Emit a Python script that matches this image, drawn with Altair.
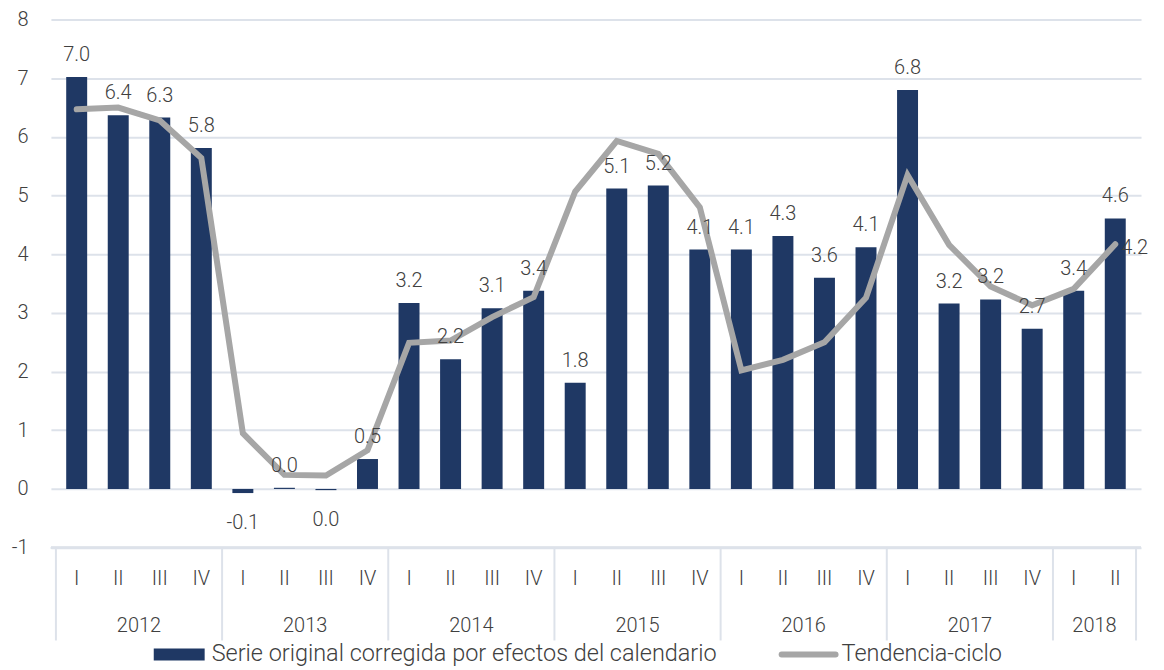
import altair as alt
import pandas as pd

quarters = ["I", "II", "III", "IV"] * 6 + ["I", "II"]
years = [2012] * 4 + [2013] * 4 + [2014] * 4 + [2015] * 4 + [2016] * 4 + [2017] * 4 + [2018] * 2
serie = [7.02, 6.37, 6.33, 5.81, -0.07, 0.02, -0.02, 0.51,
         3.17, 2.21, 3.08, 3.38, 1.81, 5.12, 5.17, 4.08,
         4.08, 4.31, 3.60, 4.12, 6.80, 3.16, 3.23, 2.73,
         3.38, 4.61]
tendencia = [6.47, 6.50, 6.28, 5.64, 0.95, 0.24, 0.23, 0.66,
             2.49, 2.53, 2.93, 3.27, 5.07, 5.93, 5.71, 4.80,
             2.02, 2.20, 2.50, 3.26, 5.35, 4.16, 3.45, 3.13,
             3.41, 4.17]
series_names = ["Serie original corregida por efectos del calendario", "Tendencia-ciclo"]

NAVY = "#1f3864"
GRAY = "#a6a6a6"
GRID = "#dde2ea"
TXT = "#404040"
FONT = "Roboto"
FS = 20
LFS = 23.5

def fmt(v):
    r = round(v, 1)
    if r == 0:
        return "0.0"
    return f"{r:.1f}"

n = len(serie)
df = pd.DataFrame({
    "idx": list(range(n)),
    "q": quarters,
    "year": years,
    "serie": serie,
    "tend": tendencia,
    "lab": [fmt(v) for v in serie],
    "tlab": [fmt(v) for v in tendencia],
    "neg": [v < 0 for v in serie],
})

# year groups
yr_rows = []
for y in sorted(set(years)):
    ids = [i for i, yy in enumerate(years) if yy == y]
    yr_rows.append({"year": str(y), "center": (ids[0] + ids[-1]) / 2, "start": ids[0] - 0.5})
ydf = pd.DataFrame(yr_rows)
sep = pd.DataFrame({"pos": list(ydf["start"]) + [n - 0.5]})

W, H = 1092, 529
xs = alt.Scale(domain=[-0.5, n - 0.5], nice=False, zero=False)
ys = alt.Scale(domain=[-1, 8], nice=False)

base = alt.Chart(df)

bars = base.mark_bar(size=21, color=NAVY).encode(
    x=alt.X("idx:Q", scale=xs, axis=None),
    y=alt.Y("serie:Q", scale=ys,
            axis=alt.Axis(values=list(range(-1, 9)),
                          labelExpr="datum.value < 0 ? '-' + abs(datum.value) : '' + datum.value",
                          title=None, domain=False, ticks=False,
                          labelFont=FONT, labelFontSize=FS, labelColor=TXT, labelFontWeight=300,
                          labelPadding=23, gridColor=GRID, gridWidth=2, gridOpacity=1)),
)

line = base.mark_line(color=GRAY, strokeWidth=6, strokeCap="round").encode(
    x=alt.X("idx:Q", scale=xs),
    y=alt.Y("tend:Q", scale=ys),
)

lab_pos = base.transform_filter("!datum.neg").mark_text(
    font=FONT, fontSize=FS, fontWeight=300, color=TXT, baseline="alphabetic", dy=-16
).encode(x=alt.X("idx:Q", scale=xs), y=alt.Y("serie:Q", scale=ys), text="lab:N")

lab_neg = base.transform_filter("datum.neg").mark_text(
    font=FONT, fontSize=FS, fontWeight=300, color=TXT, baseline="alphabetic", dy=36
).encode(x=alt.X("idx:Q", scale=xs), y=alt.Y("serie:Q", scale=ys), text="lab:N")

last_lab = base.transform_filter(f"datum.idx == {n - 1}").mark_text(
    font=FONT, fontSize=FS, fontWeight=300, color=TXT, align="left", baseline="middle", dx=6, dy=4
).encode(x=alt.X("idx:Q", scale=xs), y=alt.Y("tend:Q", scale=ys), text="tlab:N")

q_text = base.mark_text(font=FONT, fontSize=FS, fontWeight=300, color=TXT, baseline="middle").encode(
    x=alt.X("idx:Q", scale=xs), y=alt.value(H + 31), text="q:N")

y_text = alt.Chart(ydf).mark_text(font=FONT, fontSize=FS, fontWeight=300, color=TXT, baseline="middle").encode(
    x=alt.X("center:Q", scale=xs), y=alt.value(H + 79), text="year:N")

bottom_line = alt.Chart(sep).mark_rule(color=GRID, strokeWidth=2).encode(
    x=alt.value(0), x2=alt.value(W), y=alt.value(H))

seps = alt.Chart(sep).mark_rule(color=GRID, strokeWidth=2).encode(
    x=alt.X("pos:Q", scale=xs), y=alt.value(H), y2=alt.value(H + 93))

leg_df = pd.DataFrame({"name": series_names})
LY = H + 107
leg1_sw = alt.Chart(leg_df).transform_filter(f"datum.name == '{series_names[0]}'").mark_rule(
    color=NAVY, strokeWidth=12).encode(x=alt.value(103), x2=alt.value(154), y=alt.value(LY))
leg1_tx = alt.Chart(leg_df).transform_filter(f"datum.name == '{series_names[0]}'").mark_text(
    font=FONT, fontSize=LFS, fontWeight=300, color=TXT, align="left", baseline="middle").encode(
    x=alt.value(161), y=alt.value(LY), text="name:N")
leg2_sw = alt.Chart(leg_df).transform_filter(f"datum.name == '{series_names[1]}'").mark_rule(
    color=GRAY, strokeWidth=6, strokeCap="round").encode(x=alt.value(732), x2=alt.value(786), y=alt.value(LY))
leg2_tx = alt.Chart(leg_df).transform_filter(f"datum.name == '{series_names[1]}'").mark_text(
    font=FONT, fontSize=LFS, fontWeight=300, color=TXT, align="left", baseline="middle").encode(
    x=alt.value(792), y=alt.value(LY), text="name:N")

chart = alt.layer(
    bars, bottom_line, seps, line, lab_pos, lab_neg, last_lab, q_text, y_text,
    leg1_sw, leg1_tx, leg2_sw, leg2_tx
).properties(
    width=W, height=H,
    background="white",
    autosize=alt.AutoSizeParams(type="none"),
    padding={"left": 43, "top": 11, "right": 15, "bottom": 119},
).configure_view(stroke=None)

chart.save("out.html", embed_options={"renderer": "svg", "actions": False})
